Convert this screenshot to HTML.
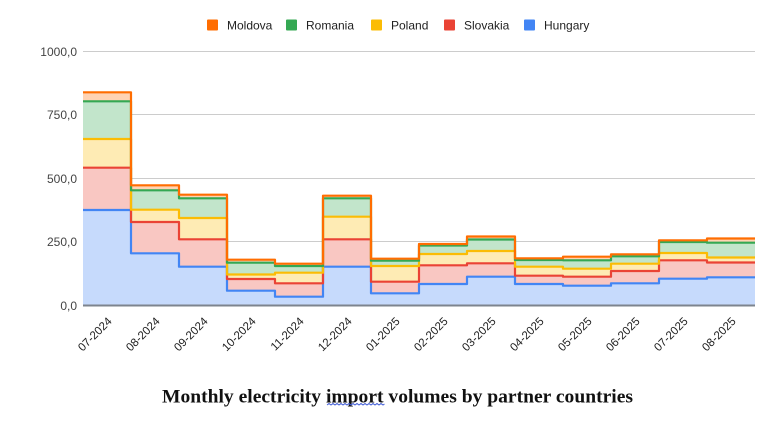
<!DOCTYPE html>
<html>
<head>
<meta charset="utf-8">
<style>
  html, body { margin: 0; padding: 0; background: #ffffff; }
  body { width: 782px; height: 443px; overflow: hidden; }
  svg { display: block; }
  .sans { font-family: "Liberation Sans", Arial, sans-serif; }
</style>
</head>
<body>
<svg width="782" height="443" viewBox="0 0 782 443" xmlns="http://www.w3.org/2000/svg">
  <rect x="0" y="0" width="782" height="443" fill="#ffffff"/>

  <!-- Legend -->
  <g class="sans" font-size="12" fill="#222222">
    <rect x="207" y="19.5" width="11" height="11" rx="1" fill="#ff6d01"/>
    <text x="227" y="29.3">Moldova</text>
    <rect x="286" y="19.5" width="11" height="11" rx="1" fill="#34a853"/>
    <text x="306" y="29.3">Romania</text>
    <rect x="371" y="19.5" width="11" height="11" rx="1" fill="#fbbc04"/>
    <text x="391" y="29.3">Poland</text>
    <rect x="444" y="19.5" width="11" height="11" rx="1" fill="#ea4335"/>
    <text x="464" y="29.3">Slovakia</text>
    <rect x="524" y="19.5" width="11" height="11" rx="1" fill="#4285f4"/>
    <text x="544" y="29.3">Hungary</text>
  </g>

  <!-- Gridlines -->
  <g stroke="#cccccc" stroke-width="1">
    <line x1="83" y1="51.5" x2="755" y2="51.5"/>
    <line x1="83" y1="114.5" x2="755" y2="114.5"/>
    <line x1="83" y1="178.5" x2="755" y2="178.5"/>
    <line x1="83" y1="241.5" x2="755" y2="241.5"/>
  </g>

  <!-- Y labels -->
  <g class="sans" font-size="12" fill="#444444" text-anchor="end">
    <text x="77" y="56">1000,0</text>
    <text x="77" y="119">750,0</text>
    <text x="77" y="183">500,0</text>
    <text x="77" y="246">250,0</text>
    <text x="77" y="310">0,0</text>
  </g>

  <!-- Area fills (top-most cumulative first) -->
  <path fill="#ffd3b3" d="M83,305 V92.3 H131 V185.3 H179 V194.7 H227 V259.7 H275 V263.7 H323 V195.7 H371 V258.7 H419 V244 H467 V236.5 H515 V258.3 H563 V256.7 H611 V254.3 H659 V240.3 H707 V238.5 H755 V305 Z"/>
  <path fill="#c2e5cb" d="M83,305 V101.3 H131 V190.3 H179 V198.3 H227 V262.7 H275 V266 H323 V198.3 H371 V260.7 H419 V245.5 H467 V239.5 H515 V260 H563 V260.3 H611 V256.3 H659 V242 H707 V242.7 H755 V305 Z"/>
  <path fill="#feebb4" d="M83,305 V139 H131 V209.7 H179 V218 H227 V274.5 H275 V272.7 H323 V216.7 H371 V266 H419 V254 H467 V251 H515 V266.7 H563 V268.7 H611 V263.7 H659 V253 H707 V257.5 H755 V305 Z"/>
  <path fill="#f9c7c2" d="M83,305 V167.7 H131 V222 H179 V239.3 H227 V279 H275 V283.3 H323 V239.3 H371 V281.7 H419 V265.3 H467 V263.3 H515 V275.7 H563 V276.7 H611 V271 H659 V260.3 H707 V262.5 H755 V305 Z"/>
  <path fill="#c6dafc" d="M83,305 V210 H131 V253.3 H179 V266.7 H227 V290.7 H275 V296.7 H323 V266.7 H371 V293.3 H419 V284 H467 V276.7 H515 V284 H563 V285.7 H611 V283.3 H659 V278.7 H707 V277.3 H755 V305 Z"/>

  <!-- Step lines -->
  <g fill="none" stroke-width="2.2" stroke-linejoin="round" stroke-linecap="butt">
    <path stroke="#4285f4" d="M83,210 H131 V253.3 H179 V266.7 H227 V290.7 H275 V296.7 H323 V266.7 H371 V293.3 H419 V284 H467 V276.7 H515 V284 H563 V285.7 H611 V283.3 H659 V278.7 H707 V277.3 H755"/>
    <path stroke="#ea4335" d="M83,167.7 H131 V222 H179 V239.3 H227 V279 H275 V283.3 H323 V239.3 H371 V281.7 H419 V265.3 H467 V263.3 H515 V275.7 H563 V276.7 H611 V271 H659 V260.3 H707 V262.5 H755"/>
    <path stroke="#fbbc04" d="M83,139 H131 V209.7 H179 V218 H227 V274.5 H275 V272.7 H323 V216.7 H371 V266 H419 V254 H467 V251 H515 V266.7 H563 V268.7 H611 V263.7 H659 V253 H707 V257.5 H755"/>
    <path stroke="#34a853" d="M83,101.3 H131 V190.3 H179 V198.3 H227 V262.7 H275 V266 H323 V198.3 H371 V260.7 H419 V245.5 H467 V239.5 H515 V260 H563 V260.3 H611 V256.3 H659 V242 H707 V242.7 H755"/>
    <path stroke="#ff6d01" d="M83,92.3 H131 V185.3 H179 V194.7 H227 V259.7 H275 V263.7 H323 V195.7 H371 V258.7 H419 V244 H467 V236.5 H515 V258.3 H563 V256.7 H611 V254.3 H659 V240.3 H707 V238.5 H755"/>
  </g>

  <!-- Baseline -->
  <line x1="83" y1="305.5" x2="755" y2="305.5" stroke="#7d848e" stroke-width="2"/>

  <!-- X labels -->
  <g class="sans" font-size="11.5" fill="#222222" text-anchor="end">
    <text transform="translate(112.5,322) rotate(-45)">07-2024</text>
    <text transform="translate(160.5,322) rotate(-45)">08-2024</text>
    <text transform="translate(208.5,322) rotate(-45)">09-2024</text>
    <text transform="translate(256.5,322) rotate(-45)">10-2024</text>
    <text transform="translate(304.5,322) rotate(-45)">11-2024</text>
    <text transform="translate(352.5,322) rotate(-45)">12-2024</text>
    <text transform="translate(400.5,322) rotate(-45)">01-2025</text>
    <text transform="translate(448.5,322) rotate(-45)">02-2025</text>
    <text transform="translate(496.5,322) rotate(-45)">03-2025</text>
    <text transform="translate(544.5,322) rotate(-45)">04-2025</text>
    <text transform="translate(592.5,322) rotate(-45)">05-2025</text>
    <text transform="translate(640.5,322) rotate(-45)">06-2025</text>
    <text transform="translate(688.5,322) rotate(-45)">07-2025</text>
    <text transform="translate(736.5,322) rotate(-45)">08-2025</text>
  </g>

  <!-- Title -->
  <text x="162" y="402.5" font-family="'Liberation Serif', 'Times New Roman', serif" font-weight="bold" font-size="19" fill="#111111" textLength="471" lengthAdjust="spacingAndGlyphs">Monthly electricity import volumes by partner countries</text>

  <!-- Spell-check squiggle under "import" -->
  <polyline fill="none" stroke="#3f5bd6" stroke-width="1" points="327,405 329,403.5 331,405 333,403.5 335,405 337,403.5 339,405 341,403.5 343,405 345,403.5 347,405 349,403.5 351,405 353,403.5 355,405 357,403.5 359,405 361,403.5 363,405 365,403.5 367,405 369,403.5 371,405 373,403.5 375,405 377,403.5 379,405 381,403.5 383,405 384.5,404"/>
</svg>
</body>
</html>
